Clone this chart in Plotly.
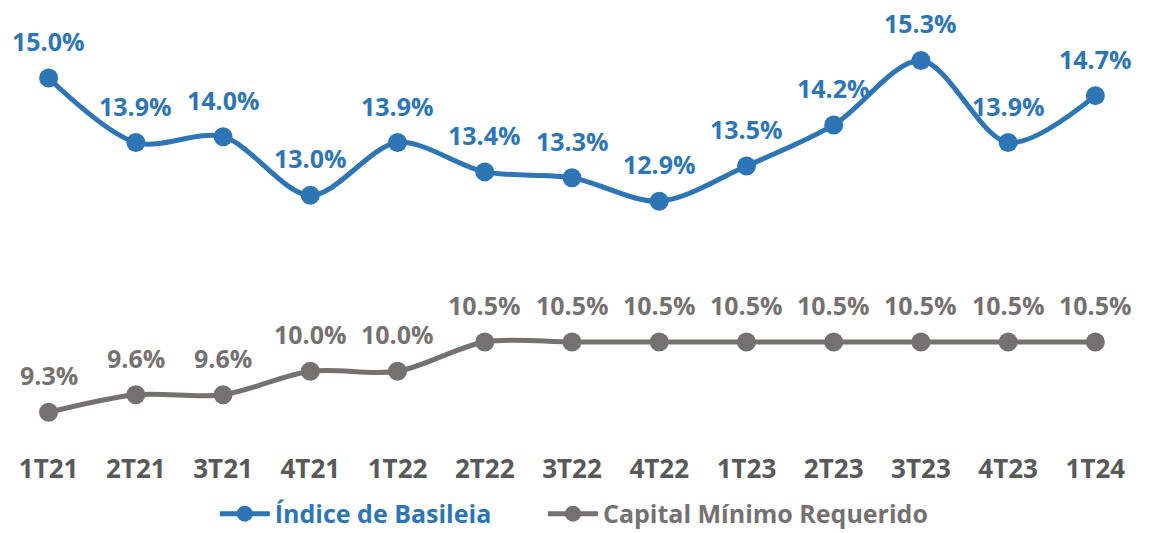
import plotly.graph_objects as go

# Quarterly periods
quarters = ["1T21", "2T21", "3T21", "4T21", "1T22", "2T22", "3T22",
            "4T22", "1T23", "2T23", "3T23", "4T23", "1T24"]

# Basel ratio (%)
indice_basileia = [15.0, 13.9, 14.0, 13.0, 13.9, 13.4, 13.3,
                   12.9, 13.5, 14.2, 15.3, 13.9, 14.7]

# Minimum required capital (%)
capital_minimo = [9.3, 9.6, 9.6, 10.0, 10.0, 10.5, 10.5,
                  10.5, 10.5, 10.5, 10.5, 10.5, 10.5]

BLUE = "#2E75B6"
GRAY = "#767171"
TICK = "#595959"
FONT = "Open Sans"

# (name, values, colour, legend id, legend left position)
series = [
    ("Índice de Basileia", indice_basileia, BLUE, "legend", 0.185),
    ("Capital Mínimo Requerido", capital_minimo, GRAY, "legend2", 0.4744),
]

fig = go.Figure()

for name, values, color, leg, _ in series:
    fig.add_trace(go.Scatter(
        x=quarters, y=values,
        name=f"<span style='color:{color}'>{name}</span>",
        legend=leg,
        mode="lines+markers",
        line=dict(color=color, width=5, shape="spline", smoothing=0.9),
        marker=dict(color=color, size=19),
    ))
    # value labels above each point
    for q, v in zip(quarters, values):
        fig.add_annotation(
            x=q, y=v, text=f"{v:.1f}%", showarrow=False,
            yshift=37, xanchor="center", yanchor="middle",
            font=dict(family=FONT, size=25, color=color, weight="bold"),
        )

legend_style = dict(
    orientation="h", xanchor="left", y=-0.146, yanchor="middle",
    font=dict(family=FONT, size=25, weight="bold"),
    itemwidth=50, bgcolor="rgba(0,0,0,0)",
)

fig.update_layout(
    width=1153, height=533,
    margin=dict(l=5, r=14, t=20, b=82, autoexpand=False),
    plot_bgcolor="white", paper_bgcolor="white",
    showlegend=True,
    legend=dict(legend_style, x=series[0][4]),
    legend2=dict(legend_style, x=series[1][4]),
    xaxis=dict(
        type="category", range=[-0.5, 12.5],
        showgrid=False, zeroline=False, showline=False, ticks="",
        tickfont=dict(family=FONT, size=26, color=TICK, weight="bold"),
    ),
    yaxis=dict(
        range=[8.64, 15.99], visible=False,
    ),
)

fig.write_html("out.html")
